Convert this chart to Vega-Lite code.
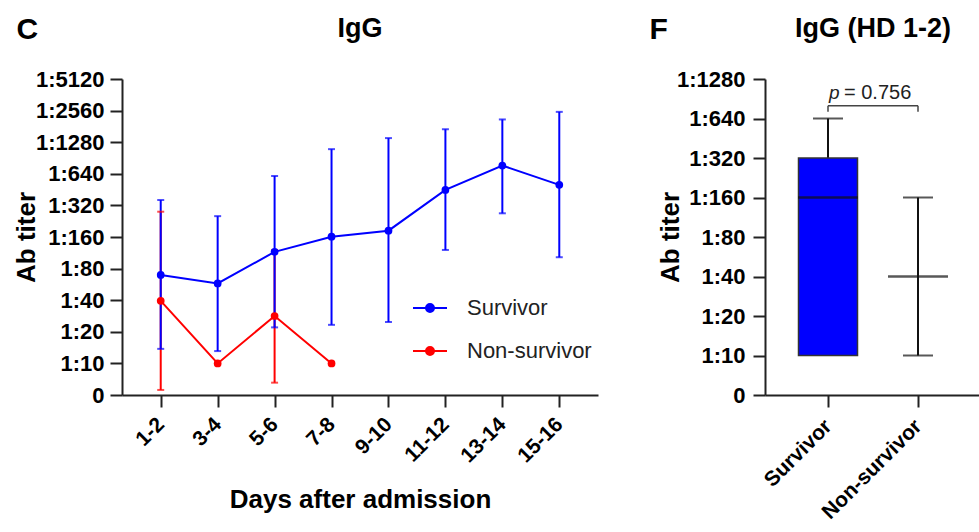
{
  "$schema": "https://vega.github.io/schema/vega-lite/v6.json",
  "background": "white",
  "padding": {"left": 13, "top": 15, "right": 0, "bottom": 0},
  "spacing": 51,
  "config": {
    "font": "Liberation Sans",
    "view": {"stroke": null},
    "title": {"font": "Liberation Sans", "fontWeight": "bold", "color": "#000"},
    "axis": {
      "domainColor": "#222", "domainWidth": 2, "tickColor": "#222", "tickWidth": 2, "tickSize": 12,
      "labelFont": "Liberation Sans", "labelFontWeight": "bold", "labelFontSize": 22, "labelColor": "#000",
      "titleFont": "Liberation Sans", "titleFontWeight": "bold", "titleFontSize": 26, "titleColor": "#000",
      "grid": false, "labelOverlap": false, "labelPadding": 4
    }
  },
  "hconcat": [
    {
      "title": {"text": "C", "anchor": "start", "frame": "bounds", "fontSize": 30, "offset": -30, "dx": 3},
      "hconcat": [
        {
          "width": 476,
          "height": 316,
          "title": {"text": "IgG", "fontSize": 27, "offset": 25, "anchor": "middle"},
          "data": {"values": [
            {"day": "1-2", "group": "Non-survivor", "mean": 2.98, "lo": 0.16, "hi": 5.80},
            {"day": "3-4", "group": "Non-survivor", "mean": 1.0, "lo": null, "hi": null},
            {"day": "5-6", "group": "Non-survivor", "mean": 2.5, "lo": 0.39, "hi": 4.59},
            {"day": "7-8", "group": "Non-survivor", "mean": 1.0, "lo": null, "hi": null},
            {"day": "1-2", "group": "Survivor", "mean": 3.80, "lo": 1.46, "hi": 6.17},
            {"day": "3-4", "group": "Survivor", "mean": 3.53, "lo": 1.39, "hi": 5.66},
            {"day": "5-6", "group": "Survivor", "mean": 4.53, "lo": 2.14, "hi": 6.93},
            {"day": "7-8", "group": "Survivor", "mean": 5.01, "lo": 2.22, "hi": 7.78},
            {"day": "9-10", "group": "Survivor", "mean": 5.20, "lo": 2.31, "hi": 8.13},
            {"day": "11-12", "group": "Survivor", "mean": 6.49, "lo": 4.59, "hi": 8.41},
            {"day": "13-14", "group": "Survivor", "mean": 7.26, "lo": 5.75, "hi": 8.72},
            {"day": "15-16", "group": "Survivor", "mean": 6.65, "lo": 4.36, "hi": 8.96}
          ]},
          "encoding": {
            "x": {
              "field": "day", "type": "ordinal",
              "sort": ["1-2", "3-4", "5-6", "7-8", "9-10", "11-12", "13-14", "15-16"],
              "scale": {"type": "point", "padding": 0.68},
              "axis": {"title": "Days after admission", "labelAngle": -45, "labelAlign": "right", "labelBaseline": "middle", "labelFontSize": 21, "labelPadding": 14, "titlePadding": 20}
            },
            "color": {
              "field": "group", "type": "nominal",
              "scale": {"domain": ["Survivor", "Non-survivor"], "range": ["#0000ff", "#ff0000"]},
              "legend": {
                "orient": "none", "legendX": 290, "legendY": 211, "title": null,
                "symbolType": "M-1,0H1M-0.235,0A0.235,0.235,0,1,0,0.235,0A0.235,0.235,0,1,0,-0.235,0Z",
                "symbolSize": 1156, "symbolStrokeWidth": 2,
                "labelFont": "Liberation Sans", "labelFontSize": 22, "labelFontWeight": "normal", "labelColor": "#222",
                "labelOffset": 19, "rowPadding": 14,
                "encode": {"symbols": {"update": {
                  "fill": {"signal": "datum.value === 'Survivor' ? '#0000ff' : '#ff0000'"},
                  "stroke": {"signal": "datum.value === 'Survivor' ? '#0000ff' : '#ff0000'"},
                  "opacity": {"value": 1}
                }}}
              }
            }
          },
          "layer": [
            {
              "transform": [{"filter": "isValid(datum.lo)"}],
              "mark": {"type": "rule", "strokeWidth": 2},
              "encoding": {
                "y": {"field": "lo", "type": "quantitative", "title": "Ab titer", "scale": {"domain": [0, 10], "nice": false},
                  "axis": {"title": "Ab titer", "values": [0, 1, 2, 3, 4, 5, 6, 7, 8, 9, 10], "labelExpr": "datum.value == 0 ? '0' : '1:' + (10 * pow(2, datum.value - 1))", "labelPadding": 6, "titlePadding": -4}},
                "y2": {"field": "hi"}
              }
            },
            {
              "transform": [{"filter": "isValid(datum.lo)"}],
              "mark": {"type": "tick", "size": 7, "thickness": 2},
              "encoding": {"y": {"field": "lo", "type": "quantitative", "title": "Ab titer",
                "axis": {"title": "Ab titer", "values": [0, 1, 2, 3, 4, 5, 6, 7, 8, 9, 10], "labelExpr": "datum.value == 0 ? '0' : '1:' + (10 * pow(2, datum.value - 1))", "labelPadding": 6, "titlePadding": -4}}}
            },
            {
              "transform": [{"filter": "isValid(datum.hi)"}],
              "mark": {"type": "tick", "size": 7, "thickness": 2},
              "encoding": {"y": {"field": "hi", "type": "quantitative", "title": "Ab titer",
                "axis": {"title": "Ab titer", "values": [0, 1, 2, 3, 4, 5, 6, 7, 8, 9, 10], "labelExpr": "datum.value == 0 ? '0' : '1:' + (10 * pow(2, datum.value - 1))", "labelPadding": 6, "titlePadding": -4}}}
            },
            {
              "mark": {"type": "line", "strokeWidth": 2},
              "encoding": {
                "y": {"field": "mean", "type": "quantitative", "title": "Ab titer", "scale": {"domain": [0, 10], "nice": false},
                  "axis": {"title": "Ab titer", "values": [0, 1, 2, 3, 4, 5, 6, 7, 8, 9, 10], "labelExpr": "datum.value == 0 ? '0' : '1:' + (10 * pow(2, datum.value - 1))", "labelPadding": 6, "titlePadding": -4}}
              }
            },
            {
              "mark": {"type": "point", "filled": true, "size": 60, "opacity": 1},
              "encoding": {"y": {"field": "mean", "type": "quantitative", "title": "Ab titer",
                "axis": {"title": "Ab titer", "values": [0, 1, 2, 3, 4, 5, 6, 7, 8, 9, 10], "labelExpr": "datum.value == 0 ? '0' : '1:' + (10 * pow(2, datum.value - 1))", "labelPadding": 6, "titlePadding": -4}}}
            }
          ]
        }
      ]
    },
    {
      "title": {"text": "F", "anchor": "start", "frame": "bounds", "fontSize": 30, "offset": -30, "dx": -8},
      "hconcat": [
        {
          "width": 216,
          "height": 316,
          "title": {"text": "IgG (HD 1-2)", "fontSize": 27, "offset": 25, "anchor": "middle"},
          "encoding": {
            "x": {
              "field": "group", "type": "nominal",
              "sort": ["Survivor", "Non-survivor"],
              "scale": {"type": "point", "padding": 0.7, "domain": ["Survivor", "Non-survivor"]},
              "axis": {"title": null, "labelAngle": -45, "labelAlign": "right", "labelBaseline": "middle", "labelFontSize": 21, "labelPadding": 16}
            },
            "y": {
              "field": "y", "type": "quantitative", "title": "Ab titer",
              "scale": {"domain": [0, 8], "nice": false},
              "axis": {"title": "Ab titer", "values": [0, 1, 2, 3, 4, 5, 6, 7, 8], "labelExpr": "datum.value == 0 ? '0' : '1:' + (10 * pow(2, datum.value - 1))", "labelPadding": 8, "titlePadding": -7}
            }
          },
          "layer": [
            {
              "data": {"name": "box", "values": [
                {"group": "Survivor", "lo": 1, "q1": 1, "med": 5, "q3": 6, "hi": 7},
                {"group": "Non-survivor", "lo": 1, "q1": 3, "med": 3, "q3": 3, "hi": 5}
              ]},
              "layer": [
                {
                  "mark": {"type": "rule", "strokeWidth": 2, "color": "#111"},
                  "encoding": {"y": {"field": "lo"}, "y2": {"field": "hi"}}
                },
                {
                  "transform": [{"filter": "datum.q3 > datum.q1"}],
                  "mark": {"type": "bar", "size": 59, "color": "#0000ff", "stroke": "#333", "strokeWidth": 1.5},
                  "encoding": {"y": {"field": "q1"}, "y2": {"field": "q3"}}
                },
                {
                  "mark": {"type": "tick", "size": 60, "thickness": 2.5, "color": "#111"},
                  "encoding": {"y": {"field": "med"}}
                },
                {
                  "mark": {"type": "tick", "size": 30, "thickness": 2, "color": "#111"},
                  "encoding": {"y": {"field": "hi"}}
                },
                {
                  "transform": [{"filter": "datum.lo < datum.q1"}],
                  "mark": {"type": "tick", "size": 30, "thickness": 2, "color": "#111"},
                  "encoding": {"y": {"field": "lo"}}
                }
              ]
            },
            {
              "data": {"values": [{"group": "Survivor", "group2": "Non-survivor", "y": 7.32}]},
              "mark": {"type": "rule", "strokeWidth": 1.5, "color": "#444"},
              "encoding": {"x2": {"field": "group2"}}
            },
            {
              "data": {"values": [{"group": "Survivor", "y": 7.32, "y2": 7.17}, {"group": "Non-survivor", "y": 7.32, "y2": 7.17}]},
              "mark": {"type": "rule", "strokeWidth": 1.5, "color": "#444"},
              "encoding": {"y2": {"field": "y2"}}
            },
            {
              "data": {"values": [{"group": "Survivor", "y": 7.49, "t": "p"}]},
              "mark": {"type": "text", "align": "left", "baseline": "alphabetic", "dx": 1, "fontSize": 19, "fontStyle": "italic", "color": "#222"},
              "encoding": {"text": {"field": "t"}}
            },
            {
              "data": {"values": [{"group": "Survivor", "y": 7.49, "t": "= 0.756"}]},
              "mark": {"type": "text", "align": "left", "baseline": "alphabetic", "dx": 16, "fontSize": 20, "color": "#222"},
              "encoding": {"text": {"field": "t"}}
            }
          ]
        }
      ]
    }
  ]
}
